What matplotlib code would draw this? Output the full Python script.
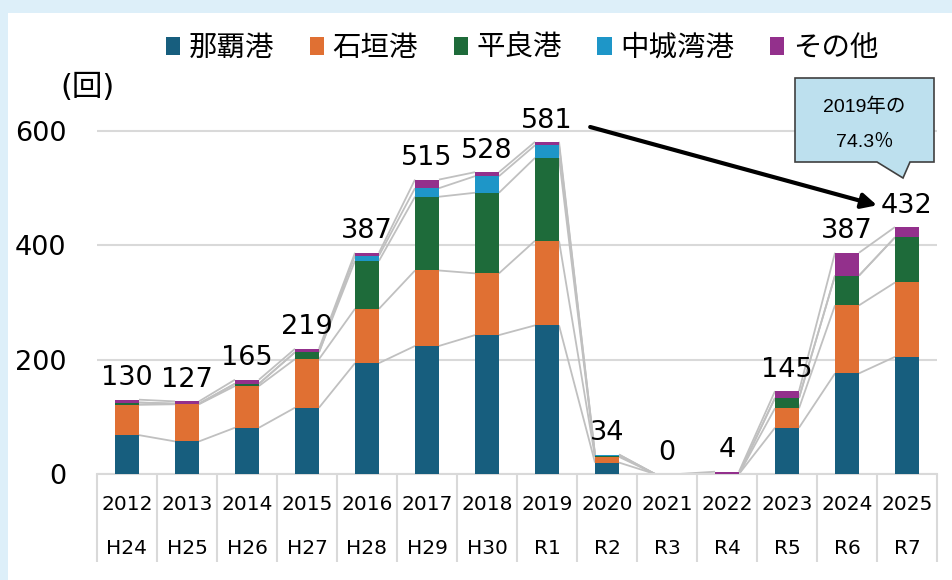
import matplotlib
matplotlib.use("Agg")
import matplotlib.pyplot as plt
import numpy as np
from matplotlib.patches import Rectangle, Polygon
import matplotlib.transforms as mtransforms

# ---- data ----
years = ["2012", "2013", "2014", "2015", "2016", "2017", "2018", "2019",
         "2020", "2021", "2022", "2023", "2024", "2025"]
eras = ["H24", "H25", "H26", "H27", "H28", "H29", "H30", "R1",
        "R2", "R3", "R4", "R5", "R6", "R7"]
series_names = ["那覇港", "石垣港", "平良港", "中城湾港", "その他"]
naha       = [68, 57, 81, 116, 194, 224, 243, 260, 20, 0, 0, 81, 176, 205]
ishigaki   = [53, 65, 73, 85, 95, 132, 108, 148, 10, 0, 0, 34, 119, 130]
hirara     = [4, 1, 4, 12, 84, 129, 141, 145, 2, 0, 0, 18, 52, 79]
nakagusuku = [0, 0, 0, 0, 9, 15, 29, 22, 2, 0, 0, 0, 0, 0]
other      = [5, 4, 7, 6, 5, 15, 7, 6, 0, 0, 4, 12, 40, 18]
totals     = [130, 127, 165, 219, 387, 515, 528, 581, 34, 0, 4, 145, 387, 432]
colors = ["#175E7E", "#E07033", "#1E6B3A", "#1E96C8", "#93308C"]
callout_lines = ["2019年の", "74.3％"]

W, H = 953, 580
fig = plt.figure(figsize=(W / 100, H / 100), dpi=100, facecolor="#DDEFF9")
fig.patches.append(Rectangle((8 / W, 0), 1 - 8 / W, 1 - 13 / H,
                             transform=fig.transFigure, facecolor="white",
                             edgecolor="none", zorder=-5))

ax_left, ax_right = 97, 937
y0_px, y600_px = 474, 131
ppu = (y0_px - y600_px) / 600.0
ymax = 620
top_px = y0_px - ymax * ppu
ax = fig.add_axes([ax_left / W, (H - y0_px) / H, (ax_right - ax_left) / W,
                   (y0_px - top_px) / H])
ax.set_facecolor("none")

x = np.arange(len(years))
width = 0.4
data = [naha, ishigaki, hirara, nakagusuku, other]
bottom = np.zeros(len(years))
cums = []
for vals, c, name in zip(data, colors, series_names):
    v = np.array(vals, dtype=float)
    ax.bar(x, v, width, bottom=bottom, color=c, label=name, zorder=3,
           linewidth=0)
    bottom = bottom + v
    cums.append(bottom.copy())

# series lines
for cum in cums:
    for i in range(len(x) - 1):
        ax.plot([x[i] + width / 2, x[i + 1] - width / 2], [cum[i], cum[i + 1]],
                color="#C0C0C0", lw=1.3, zorder=2, solid_capstyle="butt")

ax.set_xlim(-0.5, len(x) - 0.5)
ax.set_ylim(0, ymax)
ax.set_yticks([0, 200, 400, 600])
ax.yaxis.grid(True, color="#D9D9D9", lw=1.5, zorder=0)
ax.set_axisbelow(True)
for s in ["top", "right", "left"]:
    ax.spines[s].set_visible(False)
ax.spines["bottom"].set_color("#D9D9D9")
ax.spines["bottom"].set_linewidth(1.5)
ax.tick_params(axis="y", length=0, pad=22, labelsize=19.5)
for t in ax.get_yticklabels():
    t.set_fontfamily("DejaVu Sans")

# category axis: separators as minor ticks, labels as text
ax.set_xticks(x)
ax.set_xticklabels([])
ax.tick_params(axis="x", which="major", length=0)
ax.set_xticks(np.arange(len(x) + 1) - 0.5, minor=True)
ax.tick_params(axis="x", which="minor", length=63, color="#D9D9D9", width=1.5)

btrans = mtransforms.blended_transform_factory(ax.transData, ax.transAxes)
for i in range(len(x)):
    ax.annotate(years[i], xy=(x[i], 0), xycoords=btrans,
                xytext=(0, -30 * 0.72), textcoords="offset points",
                ha="center", va="center", fontsize=14.5, family="DejaVu Sans")
    ax.annotate(eras[i], xy=(x[i], 0), xycoords=btrans,
                xytext=(0, -74 * 0.72), textcoords="offset points",
                ha="center", va="center", fontsize=14.5, family="DejaVu Sans")

# data labels
for i in range(len(x)):
    ax.annotate(f"{totals[i]}", xy=(x[i], totals[i]), xytext=(0, 6),
                textcoords="offset points", ha="center", va="bottom",
                fontsize=19.5, family="DejaVu Sans", zorder=5)

# arrow from 2019 label to 2025 label
i19, i25 = years.index("2019"), years.index("2025")
ax.annotate("", xy=(x[i25] - 0.5, totals[i25] + 38),
            xytext=(x[i19] + 0.72, totals[i19] + 26),
            arrowprops=dict(arrowstyle="-|>,head_length=0.9,head_width=0.45",
                            color="black", lw=3, shrinkA=0, shrinkB=0),
            annotation_clip=False, zorder=6)

# callout box
bx0, bx1, by0, by1 = 795, 934, 78, 162
poly = [(bx0, by0), (bx1, by0), (bx1, by1), (910, by1), (903, 178),
        (877, by1), (bx0, by1)]
poly_fig = [(px / W, 1 - py / H) for px, py in poly]
fig.patches.append(Polygon(poly_fig, closed=True, transform=fig.transFigure,
                           facecolor="#BDE0EE", edgecolor="#404040", lw=1.2,
                           zorder=5))
fig.text((bx0 + bx1) / 2 / W, 1 - 107 / H, callout_lines[0], ha="center",
         va="center", fontsize=14, family=["Liberation Sans", "Noto Sans CJK JP"],
         zorder=6)
fig.text((bx0 + bx1) / 2 / W, 1 - 142 / H, callout_lines[1], ha="center",
         va="center", fontsize=14, family=["Liberation Sans", "Noto Sans CJK JP"],
         zorder=6)

# unit label
fig.text(88 / W, 1 - 88 / H, "(回)", ha="center", va="center", fontsize=22,
         family=["DejaVu Sans", "Noto Sans CJK JP"])

# legend
handles = [Rectangle((0, 0), 1, 1, facecolor=c, edgecolor="none") for c in colors]
leg = fig.legend(handles, series_names, loc="center", ncol=5,
                 bbox_to_anchor=(522 / W, 1 - 48 / H), frameon=False,
                 prop={"family": "Noto Sans CJK JP", "size": 20.5},
                 handlelength=0.5, handleheight=0.55, handletextpad=0.3,
                 columnspacing=1.25, borderaxespad=0, borderpad=0)

fig.savefig("out.png", dpi=100, facecolor=fig.get_facecolor())
